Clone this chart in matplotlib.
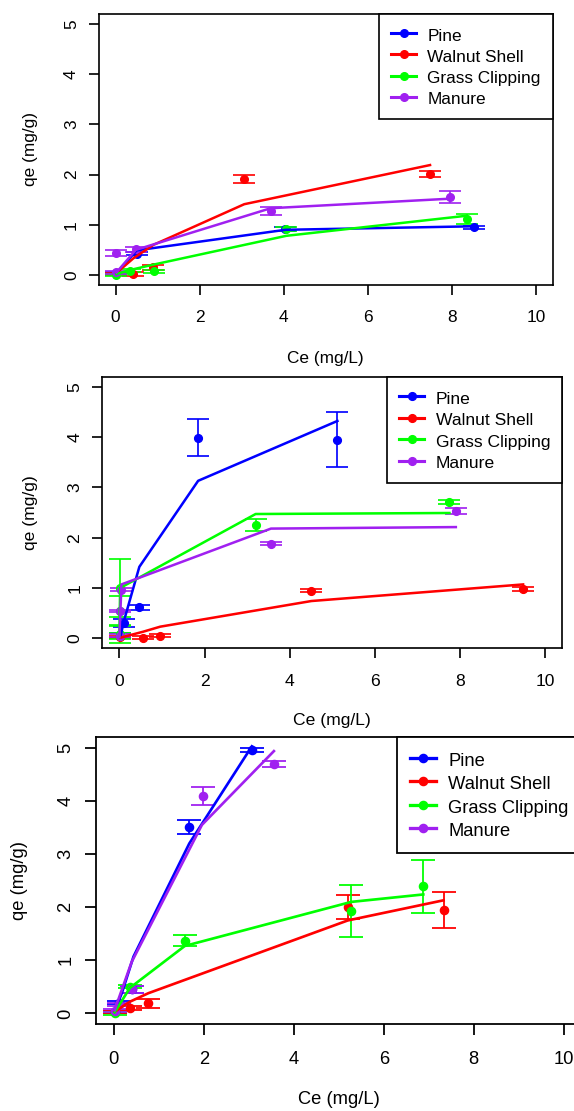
import matplotlib.pyplot as plt
from matplotlib.lines import Line2D

plt.rcParams['font.family'] = ['Liberation Sans', 'DejaVu Sans']

names = ["Pine", "Walnut Shell", "Grass Clipping", "Manure"]
colors = ["#0000FF", "#FF0000", "#00FF00", "#A020F0"]

# panel 1 - measured points (Ce, qe, sd) and fitted curve, one list per material
p1_x = [[0.02, 0.5, 4.04, 8.53],
        [0.02, 0.42, 0.9, 3.06, 7.48],
        [0.02, 0.35, 0.92, 4.06, 8.35],
        [0.02, 0.02, 0.48, 3.69, 7.96]]
p1_y = [[0.03, 0.42, 0.91, 0.95],
        [0.02, 0.01, 0.15, 1.91, 2.01],
        [0.0, 0.08, 0.07, 0.92, 1.12],
        [0.43, 0.05, 0.51, 1.27, 1.55]]
p1_sd = [[0.02, 0.03, 0.04, 0.03],
         [0.02, 0.04, 0.05, 0.08, 0.06],
         [0.02, 0.03, 0.03, 0.04, 0.1],
         [0.06, 0.03, 0.05, 0.08, 0.12]]
p1_fit_x = [[0.02, 0.5, 4.04, 8.53],
            [0.02, 0.42, 0.9, 3.06, 7.48],
            [0.02, 0.35, 0.92, 4.06, 8.35],
            [0.02, 0.48, 3.69, 7.96]]
p1_fit_y = [[0.03, 0.49, 0.9, 0.97],
            [0.04, 0.33, 0.6, 1.41, 2.19],
            [0.02, 0.1, 0.21, 0.78, 1.18],
            [0.05, 0.5, 1.33, 1.52]]

# panel 2
p2_x = [[0.02, 0.12, 0.47, 1.85, 5.12],
        [0.02, 0.56, 0.96, 4.51, 9.48],
        [0.02, 0.02, 0.02, 0.02, 3.2, 7.75],
        [0.02, 0.02, 0.05, 3.56, 7.9]]
p2_y = [[0.05, 0.3, 0.62, 3.99, 3.95],
        [0.02, 0.01, 0.05, 0.94, 0.97],
        [1.0, 0.55, 0.08, 0.04, 2.25, 2.7],
        [0.05, 0.55, 0.96, 1.88, 2.53]]
p2_sd = [[0.05, 0.08, 0.05, 0.37, 0.54],
         [0.02, 0.03, 0.03, 0.03, 0.04],
         [0.58, 0.29, 0.17, 0.06, 0.12, 0.04],
         [0.03, 0.02, 0.03, 0.03, 0.06]]
p2_fit_x = [[0.02, 0.12, 0.47, 1.85, 5.12],
            [0.02, 0.56, 0.96, 4.51, 9.48],
            [0.0, 0.02, 3.2, 7.75],
            [0.0, 0.05, 3.56, 7.9]]
p2_fit_y = [[0.02, 0.38, 1.42, 3.13, 4.32],
            [0.01, 0.13, 0.23, 0.74, 1.07],
            [0.05, 1.0, 2.47, 2.49],
            [0.02, 1.07, 2.18, 2.21]]

# panel 3
p3_x = [[0.02, 0.12, 0.4, 1.68, 3.07],
        [0.02, 0.36, 0.77, 5.2, 7.33],
        [0.02, 0.36, 1.58, 5.28, 6.88],
        [0.02, 0.12, 0.4, 1.99, 3.56]]
p3_y = [[0.03, 0.2, 0.45, 3.51, 4.96],
        [0.02, 0.1, 0.19, 2.0, 1.95],
        [0.0, 0.5, 1.37, 1.92, 2.39],
        [0.05, 0.17, 0.45, 4.1, 4.7]]
p3_sd = [[0.02, 0.03, 0.07, 0.14, 0.03],
         [0.02, 0.03, 0.085, 0.23, 0.34],
         [0.03, 0.03, 0.1, 0.49, 0.49],
         [0.03, 0.03, 0.07, 0.17, 0.05]]
p3_fit_x = [[0.02, 0.18, 0.44, 1.68, 3.07],
            [0.02, 0.36, 0.77, 5.2, 7.33],
            [0.02, 0.36, 1.58, 5.28, 6.88],
            [0.02, 0.4, 1.96, 3.56]]
p3_fit_y = [[0.05, 0.38, 1.07, 3.2, 5.03],
            [0.03, 0.22, 0.38, 1.75, 2.13],
            [0.02, 0.48, 1.27, 2.1, 2.24],
            [0.06, 0.97, 3.55, 4.94]]

W, H = 574, 1111
fig = plt.figure(figsize=(W / 100, H / 100), dpi=100)

# box in pixels (left, top, right, bottom), text scale, ylabel x, xlabel y
panels = [
    (p1_x, p1_y, p1_sd, p1_fit_x, p1_fit_y, (98.8, 14, 552.8, 285), 1.0, 31, 359),
    (p2_x, p2_y, p2_sd, p2_fit_x, p2_fit_y, (102.3, 376.7, 562.3, 648.3), 1.014, 31, 720),
    (p3_x, p3_y, p3_sd, p3_fit_x, p3_fit_y, (95.7, 737.3, 581.7, 1024), 1.071, 20, 1100),
]

for xs, ys, sds, fxs, fys, box, s, ylab_x, xlab_y in panels:
    left, top, right, bottom = box
    ax = fig.add_axes([left / W, 1 - bottom / H, (right - left) / W, (bottom - top) / H])
    fs = 12.4 * s

    for i in range(4):
        ax.errorbar(xs[i], ys[i], yerr=sds[i], fmt='o', color=colors[i], ms=5.5 * s,
                    elinewidth=1.2 * s, capsize=7.9 * s, capthick=1.2 * s, zorder=2)
    for i in range(4):
        ax.plot(fxs[i], fys[i], color=colors[i], lw=1.8 * s, zorder=3)

    ax.set_xlim(-0.4, 10.4)
    ax.set_ylim(-0.2, 5.2)
    ax.set_xticks([0, 2, 4, 6, 8, 10])
    ax.set_yticks([0, 1, 2, 3, 4, 5])
    for sp in ax.spines.values():
        sp.set_linewidth(1.2 * s)
    ax.tick_params(length=7.2 * s, width=1.2 * s, labelsize=fs)
    ax.tick_params(axis='x', pad=11 * s)
    ax.tick_params(axis='y', pad=7 * s, labelrotation=90)
    for lab in ax.get_yticklabels():
        lab.set_va('center')

    handles = [Line2D([], [], color=c, marker='o', lw=2.2 * s, ms=5.5 * s) for c in colors]
    leg = ax.legend(handles, names, loc='upper right', fontsize=fs, borderaxespad=0,
                    fancybox=False, framealpha=1, edgecolor='black', borderpad=0.7,
                    handlelength=1.45, handletextpad=0.65, handleheight=1.2, labelspacing=0.2)
    leg.get_frame().set_linewidth(1.2 * s)

    cx = (ax.transData.transform((0, 0))[0] + ax.transData.transform((10, 0))[0]) / 2
    fig.text(cx / W, 1 - xlab_y / H, "Ce (mg/L)", fontsize=fs, ha='center', va='center')
    fig.text(ylab_x / W, 1 - (top + bottom) / 2 / H, "qe (mg/g)", fontsize=fs,
             ha='center', va='center', rotation=90)

fig.savefig("out.png", dpi=100)
